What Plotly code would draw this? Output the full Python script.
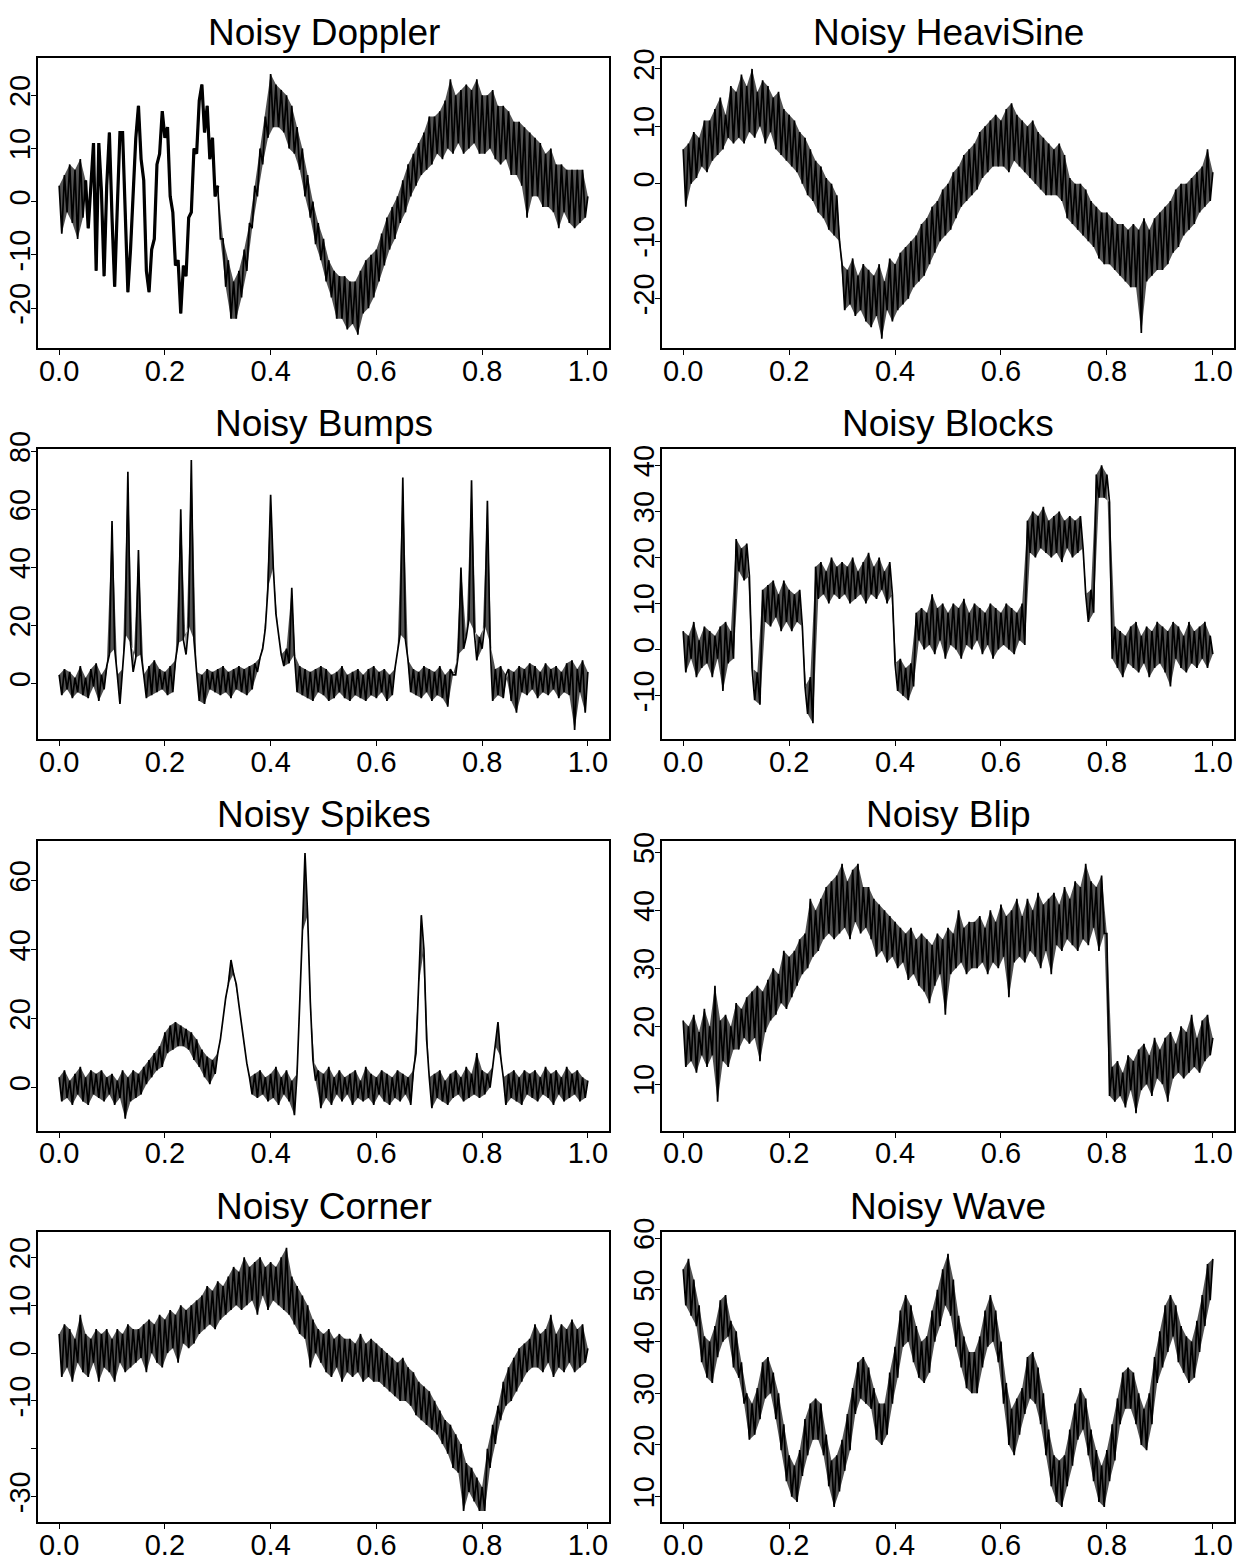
import numpy as np
import plotly.graph_objects as go

W, H = 1244, 1564

titles = ["Noisy Doppler", "Noisy HeaviSine", "Noisy Bumps", "Noisy Blocks",
          "Noisy Spikes", "Noisy Blip", "Noisy Corner", "Noisy Wave"]

doppler = [
    3, -6, 5, -2, 7, -4, 6, -7, 8, -3,
    4, -5, 3, 11, -13, 11, 2, -14, 3, 13,
    -3, -16, -1, 13, 13, -4, -17, -9, 1, 12,
    18, 8, 4, -13, -17, -9, -7, 7, 9, 17,
    12, 14, 1, -2, -12, -11, -21, -12, -14, -3,
    -2, 10, 9, 19, 22, 13, 18, 8, 12, 1,
    3, -7, -7, -16, -11, -22, -15, -22, -13, -18,
    -9, -13, -4, -5, 3, 1, 10, 7, 16, 12,
    24, 14, 22, 14, 21, 13, 20, 10, 18, 9,
    14, 6, 10, 1, 5, -3, 0, -8, -4, -11,
    -7, -15, -11, -18, -13, -22, -14, -22, -14, -24,
    -15, -23, -15, -25, -13, -21, -11, -20, -10, -18,
    -9, -15, -6, -12, -3, -9, -1, -7, 1, -4,
    4, -2, 7, 1, 9, 3, 11, 5, 13, 6,
    16, 7, 16, 9, 17, 8, 19, 10, 23, 9,
    20, 11, 21, 9, 22, 10, 21, 11, 23, 9,
    20, 9, 20, 10, 21, 8, 18, 7, 18, 8,
    17, 5, 15, 5, 15, 3, 14, -3, 13, 1,
    12, 1, 11, -1, 9, -1, 10, -2, 7, -5,
    7, -2, 6, -4, 6, -5, 6, -4, 6, -3,
    1,
]

heavisine = [
    6, -4, 7, 0, 9, 1, 8, 3, 11, 2,
    11, 4, 13, 5, 15, 6, 12, 8, 17, 7,
    16, 8, 19, 7, 17, 9, 20, 8, 16, 10,
    18, 7, 17, 9, 15, 6, 16, 5, 13, 4,
    12, 3, 11, 2, 9, 0, 8, -2, 6, -3,
    4, -5, 3, -6, 1, -8, 0, -9, -2, -10,
    -14, -22, -15, -21, -13, -23, -16, -22, -14, -24,
    -15, -25, -16, -23, -14, -27, -17, -22, -13, -24,
    -14, -22, -12, -21, -11, -20, -10, -18, -9, -17,
    -7, -16, -6, -14, -4, -12, -3, -10, -1, -9,
    0, -8, 2, -6, 3, -4, 5, -3, 6, -2,
    7, -1, 9, 1, 10, 2, 11, 3, 12, 3,
    11, 3, 13, 2, 14, 4, 12, 3, 11, 2,
    10, 1, 11, 0, 9, -1, 8, -2, 7, -2,
    6, -2, 7, -3, 5, -6, 1, -7, 0, -8,
    0, -9, -1, -10, -3, -11, -4, -13, -5, -14,
    -5, -14, -6, -15, -7, -16, -7, -17, -8, -18,
    -7, -18, -8, -26, -6, -17, -8, -16, -6, -15,
    -5, -15, -4, -14, -3, -12, -1, -11, 0, -9,
    0, -8, 1, -7, 2, -5, 3, -4, 6, -3,
    2,
]

bumps = [
    3, -4, 5, -2, 4, -5, 2, -3, 6, -4,
    2, -5, 5, -1, 7, -6, 3, -2, 6, 10,
    56, 12, 3, -7, 5, 17, 73, 14, 4, 9,
    46, 10, 3, -5, 6, -4, 8, -3, 5, -2,
    4, -4, 6, -3, 8, 14, 60, 15, 10, 20,
    77, 15, 4, -6, 3, -7, 5, -2, 4, -3,
    5, -4, 6, -3, 4, -5, 5, -2, 6, -3,
    5, -4, 6, -2, 7, 4, 9, 12, 19, 33,
    65, 40, 24, 16, 10, 6, 12, 7, 33, 10,
    -3, 6, -4, 5, -5, 4, -6, 5, -3, 6,
    -4, 5, -6, 3, -5, 4, -3, 6, -5, 3,
    -6, 4, -4, 5, -5, 3, -6, 5, -4, 6,
    -5, 4, -3, 5, -6, 3, -4, 5, 11, 17,
    71, 15, 8, -3, 5, -4, 4, -5, 6, -3,
    5, -6, 4, -4, 6, -5, 3, -8, 5, 3,
    3, 10, 40, 12, 16, 22, 70, 18, 8, 16,
    12, 20, 63, 14, -6, 5, -4, 6, -5, 3,
    5, -6, 4, -10, 6, -3, 5, -4, 7, -2,
    6, -5, 4, -3, 7, -4, 5, -2, 6, -5,
    4, -3, 7, -4, 8, -16, 5, -3, 8, -10,
    4,
]

blocks = [
    4, -5, 3, -2, 6, -6, 2, -4, 5, -3,
    4, -6, 3, -2, 5, -9, 6, -3, 4, -2,
    24, 17, 22, 15, 23, 16, -4, -11, -5, -12,
    13, 6, 14, 5, 15, 7, 12, 4, 15, 6,
    13, 4, 12, 6, 13, 5, -8, -14, -6, -16,
    18, 11, 19, 12, 17, 10, 20, 12, 18, 11,
    19, 12, 18, 10, 20, 11, 17, 12, 19, 10,
    21, 12, 18, 11, 20, 13, 17, 10, 19, 12,
    -3, -9, -2, -10, -4, -11, -3, -8, 8, 2,
    9, 0, 8, 1, 12, -1, 9, 2, 10, -2,
    8, 1, 10, 0, 9, -2, 11, 1, 8, 0,
    10, 2, 9, -1, 8, 1, 10, -2, 9, 0,
    8, 1, 10, 0, 9, -1, 8, 2, 10, 1,
    28, 21, 30, 20, 29, 22, 31, 21, 28, 20,
    29, 21, 30, 19, 28, 22, 29, 20, 28, 21,
    29, 22, 12, 6, 13, 8, 38, 33, 40, 33,
    38, 32, -2, 5, -4, 4, -6, 3, -3, 5,
    -4, 6, -5, 3, -3, 5, -6, 4, -4, 6,
    -3, 5, -5, 4, -8, 6, -2, 5, -4, 3,
    -5, 6, -3, 4, -4, 5, -2, 6, -4, 3,
    -1,
]

spikes = [
    3, -4, 5, -3, 2, -5, 4, -2, 6, -4,
    3, -5, 5, -2, 4, -3, 5, -4, 3, -2,
    4, -5, 2, -3, 5, -9, 3, -4, 5, -3,
    4, -2, 6, 1, 8, 3, 10, 5, 12, 6,
    16, 10, 18, 11, 19, 12, 18, 12, 17, 11,
    16, 8, 14, 6, 11, 3, 9, 1, 8, 4,
    10, 14, 20, 26, 30, 37, 33, 30, 24, 18,
    12, 7, 3, -2, 4, -3, 5, -2, 3, -4,
    4, -3, 6, -5, 3, -2, 5, -4, 2, -8,
    4, 22, 45, 68, 50, 25, 8, 2, 5, -6,
    4, -3, 6, -5, 3, -2, 5, -4, 3, -2,
    4, -5, 5, -3, 2, -4, 6, -3, 4, -5,
    3, -2, 5, -4, 4, -5, 3, -3, 5, -4,
    4, -2, 3, -5, 5, 10, 30, 50, 40, 14,
    3, -6, 4, -3, 5, -4, 2, -5, 4, -3,
    5, -2, 3, -4, 6, -3, 4, -2, 10, -3,
    5, -2, 4, 0, 6, 12, 19, 9, 3, -5,
    4, -3, 5, -4, 3, -5, 5, -2, 4, -3,
    5, -4, 3, -2, 6, -3, 4, -5, 5, -2,
    3, -4, 6, -3, 4, -2, 5, -4, 3, -3,
    2,
]

blip = [
    21, 13, 20, 14, 22, 12, 19, 15, 23, 13,
    20, 15, 27, 7, 21, 14, 22, 13, 20, 16,
    24, 16, 23, 18, 25, 17, 26, 18, 27, 14,
    26, 19, 28, 21, 30, 22, 29, 24, 33, 23,
    32, 25, 33, 27, 35, 29, 36, 30, 42, 32,
    40, 33, 42, 35, 44, 36, 45, 35, 46, 36,
    48, 37, 45, 35, 47, 38, 48, 36, 44, 37,
    44, 35, 42, 32, 41, 33, 40, 31, 39, 32,
    38, 30, 37, 31, 36, 28, 37, 29, 35, 27,
    36, 26, 35, 24, 34, 27, 36, 29, 35, 22,
    37, 29, 36, 30, 40, 31, 37, 29, 38, 30,
    38, 30, 39, 31, 37, 29, 40, 31, 38, 30,
    41, 32, 39, 25, 40, 31, 42, 32, 39, 31,
    42, 33, 40, 32, 43, 30, 41, 33, 42, 29,
    43, 34, 41, 33, 44, 35, 42, 34, 45, 33,
    44, 35, 48, 34, 45, 37, 44, 33, 46, 36,
    36, 8, 13, 7, 14, 8, 12, 6, 15, 9,
    14, 5, 16, 9, 17, 10, 15, 8, 18, 11,
    16, 10, 18, 7, 19, 11, 17, 12, 20, 11,
    19, 12, 22, 13, 18, 12, 21, 14, 22, 15,
    18,
]

corner = [
    4, -5, 6, -3, 5, -6, 3, -2, 8, -4,
    4, -5, 3, -2, 5, -6, 4, -3, 5, -4,
    3, -6, 5, -2, 4, -4, 6, -3, 5, -2,
    5, -1, 6, -4, 7, 0, 6, -2, 8, -3,
    7, 0, 9, 1, 8, -2, 10, 2, 9, 1,
    10, 2, 11, 4, 12, 5, 14, 6, 13, 5,
    15, 7, 14, 8, 16, 9, 18, 10, 17, 9,
    20, 10, 18, 11, 19, 8, 20, 12, 18, 9,
    19, 11, 18, 10, 20, 9, 22, 8, 16, 6,
    14, 4, 12, 3, 10, -3, 7, 0, 5, -2,
    4, -4, 5, -5, 3, -3, 4, -6, 3, -4,
    3, -5, 2, -4, 4, -6, 2, -5, 3, -6,
    2, -6, 1, -7, 0, -8, -1, -9, -2, -10,
    -1, -10, -3, -11, -4, -13, -6, -14, -7, -15,
    -8, -16, -10, -17, -12, -19, -14, -21, -15, -24,
    -17, -25, -19, -33, -23, -29, -24, -31, -26, -33,
    -28, -33, -20, -24, -15, -19, -11, -14, -6, -11,
    -3, -10, -1, -8, 1, -6, 2, -4, 3, -3,
    6, -3, 4, -4, 5, -2, 8, -5, 4, -3,
    6, -4, 5, -2, 7, -4, 5, -3, 6, -2,
    1,
]

wave = [
    54, 47, 56, 45, 52, 43, 47, 36, 41, 33,
    40, 32, 43, 37, 48, 40, 49, 41, 44, 35,
    42, 33, 36, 28, 30, 21, 28, 22, 31, 25,
    36, 29, 37, 30, 34, 25, 30, 19, 24, 13,
    18, 10, 16, 9, 19, 14, 25, 18, 28, 21,
    29, 21, 28, 18, 22, 12, 17, 8, 18, 11,
    21, 15, 26, 19, 31, 26, 36, 29, 37, 28,
    35, 27, 31, 21, 28, 20, 28, 22, 34, 28,
    39, 33, 46, 39, 49, 40, 47, 36, 43, 33,
    40, 32, 41, 34, 46, 40, 50, 43, 54, 47,
    57, 45, 52, 39, 45, 35, 41, 31, 38, 30,
    38, 30, 41, 35, 46, 39, 49, 40, 46, 36,
    40, 28, 32, 20, 27, 18, 29, 22, 31, 26,
    37, 29, 38, 28, 35, 24, 30, 18, 23, 12,
    18, 9, 17, 8, 18, 12, 23, 16, 28, 21,
    31, 23, 29, 18, 23, 13, 19, 9, 16, 8,
    19, 13, 24, 17, 29, 24, 34, 27, 35, 27,
    34, 24, 30, 20, 27, 19, 30, 24, 37, 32,
    42, 35, 47, 38, 49, 41, 47, 36, 43, 34,
    41, 32, 40, 33, 44, 38, 49, 43, 55, 48,
    56,
]

x_tick_values = [0.0, 0.2, 0.4, 0.6, 0.8, 1.0]
x_tick_labels = ["0.0", "0.2", "0.4", "0.6", "0.8", "1.0"]

y_tick_values = [
    [-20, -10, 0, 10, 20],
    [-30, -20, -10, 0, 10, 20],
    [0, 20, 40, 60, 80],
    [-10, 0, 10, 20, 30, 40],
    [0, 20, 40, 60],
    [10, 20, 30, 40, 50],
    [-30, -20, -10, 0, 10, 20],
    [10, 20, 30, 40, 50, 60],
]
y_tick_labels = [
    ["-20", "-10", "0", "10", "20"],
    ["-30", "-20", "-10", "0", "10", "20"],
    ["0", "20", "40", "60", "80"],
    ["-10", "0", "10", "20", "30", "40"],
    ["0", "20", "40", "60"],
    ["10", "20", "30", "40", "50"],
    ["-30", "", "-10", "0", "10", "20"],
    ["10", "20", "30", "40", "50", "60"],
]

series = [doppler, heavisine, bumps, blocks, spikes, blip, corner, wave]

# ---- styling / layout (pixels; index ranges for band shading and heavy strokes) ----
band_segments = [
    [(0, 11), (60, 201)],
    [(0, 201)], [(0, 201)], [(0, 201)],
    [(0, 201)], [(0, 201)], [(0, 201)], [(0, 201)],
]
heavy_segments = [[(10, 61)], [], [], [], [], [], [], []]
y_ranges = [
    [-27.5, 27.0], [-28.6, 21.9], [-19.2, 80.7], [-19.5, 43.5],
    [-12.5, 71.6], [2.0, 52.0], [-35.3, 25.3], [5.1, 61.2],
]
col_px = [(38, 609), (662, 1234)]
row_px = [(58, 348), (449.3, 739.3), (840.7, 1130.7), (1232, 1522)]
title_center_px = [32, 423.3, 814.7, 1206]

TICK_FONT = dict(family="Liberation Sans, Arial, Helvetica", size=29, color="black")
TITLE_FONT = dict(family="Liberation Sans, Arial, Helvetica", size=37, color="black")
BAND_FILL = "rgba(0,0,0,0.68)"

fig = go.Figure()
layout = dict(
    width=W, height=H, margin=dict(l=0, r=0, t=0, b=0, pad=0, autoexpand=False),
    paper_bgcolor="white", plot_bgcolor="white", showlegend=False,
    annotations=[],
)

for i, (title, y) in enumerate(zip(titles, series)):
    r, c = divmod(i, 2)
    n = i + 1
    xs = np.linspace(0, 1, len(y))
    ys = np.asarray(y, dtype=float)
    idx = np.arange(len(ys))
    for a, b in band_segments[i]:
        ev = idx[a:b][idx[a:b] % 2 == 0]
        od = idx[a:b][idx[a:b] % 2 == 1]
        fig.add_trace(go.Scatter(
            x=xs[ev], y=ys[ev], mode="lines", line=dict(width=0),
            xaxis=f"x{n}", yaxis=f"y{n}", hoverinfo="skip"))
        fig.add_trace(go.Scatter(
            x=xs[od], y=ys[od], mode="lines", line=dict(width=0),
            fill="tonexty", fillcolor=BAND_FILL,
            xaxis=f"x{n}", yaxis=f"y{n}", hoverinfo="skip"))
    for a, b in heavy_segments[i]:
        fig.add_trace(go.Scatter(
            x=xs[a:b], y=ys[a:b], mode="lines",
            line=dict(color="black", width=3.2),
            xaxis=f"x{n}", yaxis=f"y{n}", hoverinfo="skip"))
    fig.add_trace(go.Scatter(
        x=xs, y=ys, mode="lines",
        line=dict(color="black", width=1.7),
        xaxis=f"x{n}", yaxis=f"y{n}", hoverinfo="skip",
    ))
    x0, x1 = col_px[c]
    t0, t1 = row_px[r]
    common = dict(showline=True, linecolor="black", linewidth=1.8, mirror=True,
                  ticks="outside", ticklen=5, tickwidth=1.2, tickcolor="black",
                  showgrid=False, zeroline=False, tickfont=TICK_FONT,
                  automargin=False)
    layout[f"xaxis{n}"] = dict(
        domain=[x0 / W, x1 / W], anchor=f"y{n}", range=[-0.04, 1.04],
        tickmode="array", tickvals=x_tick_values, ticktext=x_tick_labels,
        ticklabelstandoff=-9, **common)
    layout[f"yaxis{n}"] = dict(
        domain=[1 - t1 / H, 1 - t0 / H], anchor=f"x{n}", range=y_ranges[i],
        tickmode="array", tickvals=y_tick_values[i], ticktext=y_tick_labels[i],
        tickangle=-90, ticklabelstandoff=-10, **common)
    layout["annotations"].append(dict(
        text=title, xref="paper", yref="paper",
        x=(x0 + x1) / 2 / W, y=1 - title_center_px[r] / H,
        xanchor="center", yanchor="middle", showarrow=False, font=TITLE_FONT,
    ))

fig.update_layout(**layout)
fig.write_html(
    "out.html",
    config={"displayModeBar": False},
    post_script="document.body.style.margin='0';document.body.style.overflow='hidden';",
)
